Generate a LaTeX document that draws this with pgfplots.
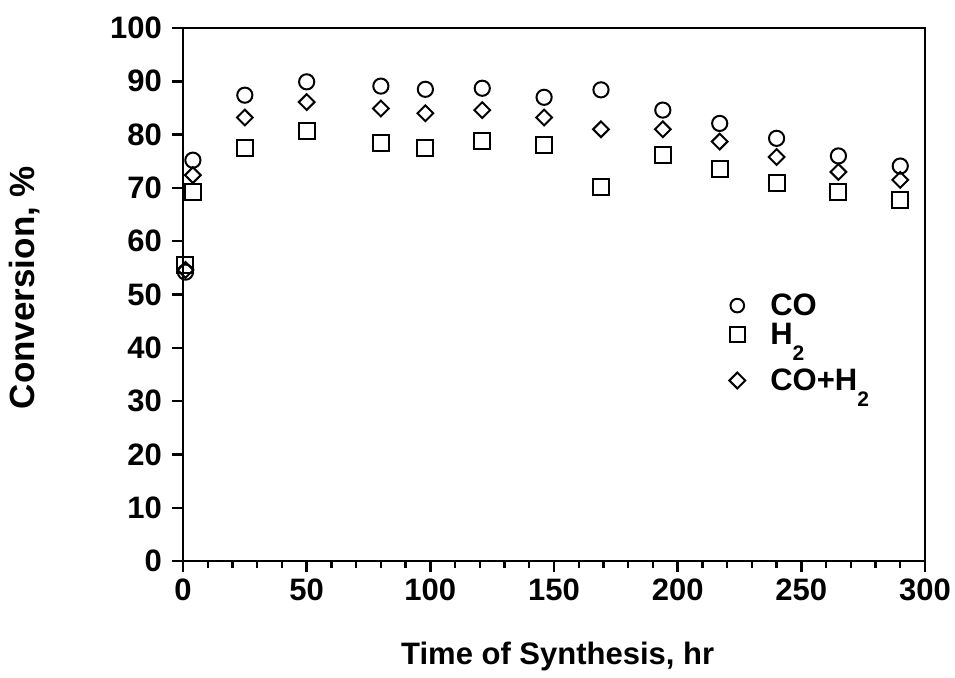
\documentclass[border=0pt]{standalone}
\usepackage{fontspec}
\setmainfont{Liberation Sans}
\usepackage{pgfplots}
\pgfplotsset{compat=1.18}
\newcommand\sub[1]{\raisebox{-8pt}{\fontsize{10.5}{11}\selectfont\bfseries #1}}
\begin{document}
\begin{tikzpicture}
\useasboundingbox (-91.5pt,-58pt) rectangle (386pt,280.5pt);
\begin{axis}[
  at={(0,0)}, anchor=south west,
  scale only axis, width=371pt, height=266.5pt,
  xmin=0, xmax=300, ymin=0, ymax=100,
  xtick={0,50,...,300}, minor x tick num=4,
  ytick={0,10,...,100},
  tick pos=left, tick align=outside,
  major tick length=5.5pt, minor tick length=3.5pt,
  axis line style={line width=1.3pt},
  every tick/.style={line width=1.2pt, black},
  /pgf/number format/assume math mode=true,
  tick label style={font=\fontsize{15.5}{17}\selectfont\bfseries},
  yticklabel style={xshift=-1.5pt},
  xlabel={Time of Synthesis, hr}, ylabel={Conversion, \%},
  xlabel style={font=\fontsize{15.5}{17}\selectfont\bfseries, at={(axis description cs:0.505,-0.195)}, anchor=base},
  ylabel style={font=\fontsize{17.5}{19}\selectfont\bfseries, at={(axis description cs:-0.213,0.513)}, anchor=center},
  legend style={at={(rel axis cs:0.7357,0.5018)}, anchor=north west, draw=none, fill=none,
    inner sep=0pt, column sep=0pt, row sep=2.4pt,
    font=\fontsize{15.5}{17}\selectfont\bfseries,
    nodes={inner sep=0pt}, cells={anchor=base west}},
  legend image code/.code={\path[draw=none] (0,0) -- (20.5pt,0); \draw[#1] plot coordinates {(4pt,5pt)};},
]
\addplot[only marks, mark=o, mark size=3.8pt, line width=1pt, forget plot] coordinates {
(1,54.2) (4,75.2) (25,87.4) (50,89.9) (80,89.1) (98,88.5) (121,88.7) (146,87.0)
(169,88.4) (194,84.6) (217,82.1) (240,79.3) (265,76.0) (290,74.1)};
\addplot[only marks, mark=square, mark size=4pt, line width=1pt, forget plot] coordinates {
(1,55.5) (4,69.3) (25,77.4) (50,80.7) (80,78.5) (98,77.4) (121,78.8) (146,78.0)
(169,70.1) (194,76.2) (217,73.5) (240,71.0) (265,69.3) (290,67.7)};
\addplot[only marks, mark=square, mark options={rotate=45}, mark size=2.78pt, line width=1pt, forget plot] coordinates {
(1,54.6) (4,72.4) (25,83.2) (50,86.1) (80,84.9) (98,84.0) (121,84.6) (146,83.2)
(169,81.0) (194,81.0) (217,78.7) (240,75.8) (265,73.0) (290,71.5)};
\addlegendimage{only marks, mark=o, mark size=3.4pt, line width=1pt}
\addlegendentry{CO}
\addlegendimage{only marks, mark=square, mark size=3.8pt, line width=1pt}
\addlegendentry{H\sub{2}}
\addlegendimage{only marks, mark=square, mark options={rotate=45}, mark size=2.8pt, line width=1pt}
\addlegendentry{\rule{0pt}{19pt}CO+H\sub{2}}
\end{axis}
\end{tikzpicture}
\end{document}
